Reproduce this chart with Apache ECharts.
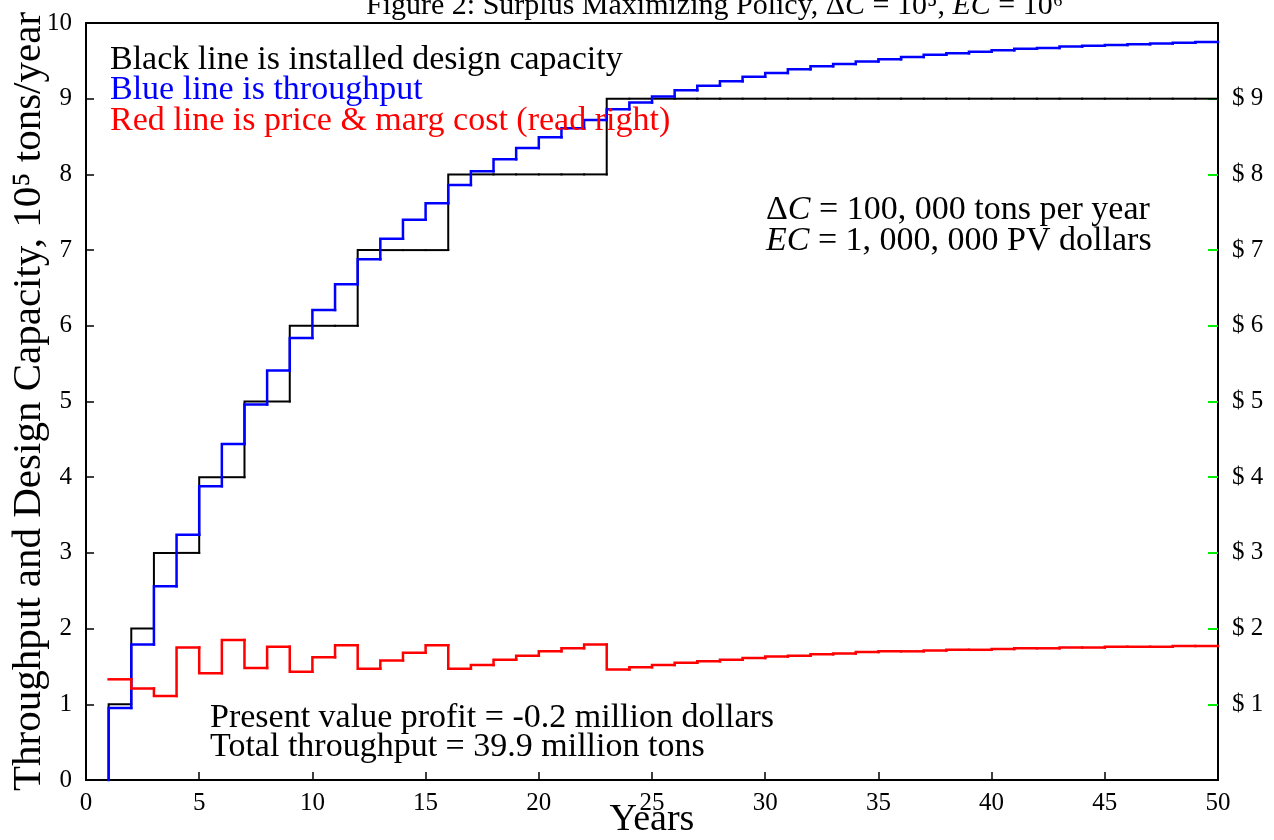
<!DOCTYPE html>
<html>
<head>
<meta charset="utf-8">
<script src="https://cdn.jsdelivr.net/npm/echarts@6/dist/echarts.min.js"></script>
<style>
html, body { margin: 0; background: #fff; }
#chart { width: 1274px; height: 840px; }
</style>
</head>
<body>
<div id="chart"></div>
<script>
// year at the start of each one-year interval
const years = [1, 2, 3, 4, 5, 6, 7, 8, 9, 10, 11, 12, 13, 14, 15, 16, 17, 18, 19, 20, 21, 22, 23, 24, 25,
    26, 27, 28, 29, 30, 31, 32, 33, 34, 35, 36, 37, 38, 39, 40, 41, 42, 43, 44, 45, 46, 47, 48, 49]
// installed design capacity, 10^5 tons/year
const capacity = [1, 2, 3, 3, 4, 4, 5, 5, 6, 6, 6, 7, 7, 7, 7, 8, 8, 8, 8, 8, 8, 8, 9, 9, 9,
    9, 9, 9, 9, 9, 9, 9, 9, 9, 9, 9, 9, 9, 9, 9, 9, 9, 9, 9, 9, 9, 9, 9, 9]
// throughput, 10^5 tons/year
const throughput = [0.95, 1.79, 2.56, 3.24, 3.88, 4.44, 4.96, 5.41, 5.84, 6.21, 6.55, 6.88, 7.15, 7.40, 7.62,
    7.86, 8.04, 8.20, 8.35, 8.49, 8.61, 8.72, 8.86, 8.95, 9.03, 9.11, 9.17, 9.23, 9.29, 9.34, 9.39, 9.43,
    9.46, 9.49, 9.52, 9.55, 9.58, 9.60, 9.62, 9.64, 9.66, 9.67, 9.69, 9.70, 9.71, 9.72, 9.73, 9.74, 9.75]
// price & marginal cost, dollars (right axis)
const price = [1.33, 1.21, 1.11, 1.75, 1.41, 1.85, 1.48, 1.76, 1.43, 1.62, 1.78, 1.47, 1.58, 1.68, 1.78,
    1.47, 1.52, 1.59, 1.64, 1.70, 1.74, 1.79, 1.46, 1.49, 1.52, 1.55, 1.57, 1.59, 1.61, 1.63, 1.64, 1.66,
    1.67, 1.69, 1.70, 1.70, 1.71, 1.72, 1.72, 1.73, 1.74, 1.74, 1.75, 1.75, 1.76, 1.76, 1.76, 1.77, 1.77]
const priceTicks = [1, 2, 3, 4, 5, 6, 7, 8, 9]

const SERIF = '"Liberation Serif", "DejaVu Serif", serif'

// one row per year: [start, value, previous value, end]
// (a custom series is used because the line series drops sub-pixel steps)
function stepRows (vals, fromZero) {
    return years.map((y, i) => [y, vals[i], i > 0 ? vals[i - 1] : (fromZero ? 0 : vals[0]), y + 1])
}

function stepSeries (name, vals, fromZero, color, width, z, yAxisIndex) {
    return {
        name, type: 'custom', z, yAxisIndex: yAxisIndex || 0, silent: true,
        encode: { x: [0, 3], y: [1, 2] },
        data: stepRows(vals, fromZero),
        renderItem (params, api) {
            const x0 = api.value(0), v = api.value(1), pv = api.value(2), x1 = api.value(3)
            return {
                type: 'polyline',
                shape: { points: [api.coord([x0, pv]), api.coord([x0, v]), api.coord([x1, v])] },
                style: { stroke: color, lineWidth: width, fill: null, lineCap: 'square', lineJoin: 'miter' }
            }
        }
    }
}

function label (text, x, y, color, size, rich) {
    return {
        type: 'text', x, y, z: 100,
        style: {
            text, fill: color || '#000', font: (size || 34) + 'px ' + SERIF,
            verticalAlign: 'middle', rich: rich || {}
        }
    }
}

const italic = { i: { fontStyle: 'italic', fontSize: 34, fontFamily: SERIF } }
const italicSmall = { i: { fontStyle: 'italic', fontSize: 30, fontFamily: SERIF } }

const chart = echarts.init(document.getElementById('chart'))
chart.setOption({
    animation: false,
    backgroundColor: '#fff',
    grid: {
        left: 86, right: 56, top: 23, bottom: 60, show: true, borderColor: '#000', borderWidth: 2,
        outerBoundsMode: 'none', containLabel: false
    },
    xAxis: {
        type: 'value', min: 0, max: 50, interval: 5,
        name: 'Years', nameLocation: 'middle', nameGap: 21, nameMoveOverlap: false,
        nameTextStyle: { fontSize: 38, fontFamily: SERIF, color: '#000' },
        axisLine: { lineStyle: { color: '#000', width: 2 } },
        axisTick: { inside: true, length: 8, lineStyle: { color: '#000', width: 1.5 } },
        axisLabel: { fontSize: 25, fontFamily: SERIF, color: '#000', margin: 11 },
        splitLine: { show: false }
    },
    yAxis: [
        {
            type: 'value', min: 0, max: 10, interval: 1, position: 'left',
            name: 'Throughput and Design Capacity, 10⁵ tons/year',
            nameLocation: 'middle', nameGap: 36, nameRotate: 90, nameMoveOverlap: false,
            nameTextStyle: { fontSize: 41, fontFamily: SERIF, color: '#000' },
            axisLine: { show: true, lineStyle: { color: '#000', width: 2 } },
            axisTick: { inside: true, length: 8, lineStyle: { color: '#000', width: 1.5 } },
            axisLabel: { fontSize: 25, fontFamily: SERIF, color: '#000', margin: 14 },
            splitLine: { show: false }
        },
        {
            type: 'value', min: 0, max: 10, interval: 1, position: 'right',
            axisLine: { show: true, lineStyle: { color: '#000', width: 2 } },
            axisTick: { inside: true, length: 10, customValues: priceTicks, lineStyle: { color: '#00ee00', width: 2 } },
            axisLabel: {
                fontSize: 25, fontFamily: SERIF, color: '#000', margin: 14,
                customValues: priceTicks, formatter: v => '$ ' + v
            },
            splitLine: { show: false }
        }
    ],
    series: [
        stepSeries('capacity', capacity, true, '#000', 2, 2),
        stepSeries('throughput', throughput, true, '#0000ff', 2.5, 3),
        stepSeries('price', price, false, '#ff0000', 2.5, 4, 1)
    ],
    graphic: [
        label('Figure 2: Surplus Maximizing Policy, Δ{i|C} = 10⁵, {i|EC} = 10⁶', 366, 6, '#000', 30, italicSmall),
        label('Black line is installed design capacity', 110, 60, '#000'),
        label('Blue line is throughput', 110, 90, '#0000ff'),
        label('Red line is price & marg cost (read right)', 110, 121, '#ff0000'),
        label('Δ{i|C} = 100, 000 tons per year', 766, 210, '#000', 34, italic),
        label('{i|EC} = 1, 000, 000 PV dollars', 766, 241, '#000', 34, italic),
        label('Present value profit = -0.2 million dollars', 210, 718, '#000'),
        label('Total throughput = 39.9 million tons', 210, 747, '#000')
    ]
})
</script>
</body>
</html>
